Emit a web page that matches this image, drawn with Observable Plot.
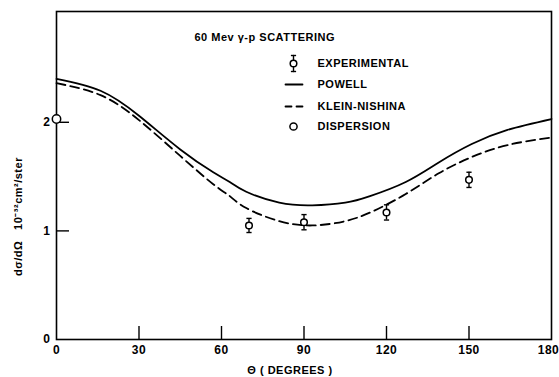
<!DOCTYPE html>
<html>
<head>
<meta charset="utf-8">
<script src="https://cdn.jsdelivr.net/npm/d3@7"></script>
<script src="https://cdn.jsdelivr.net/npm/@observablehq/plot@0.6"></script>
<style>
  html, body { margin: 0; padding: 0; background: #fff; }
  #chart svg text { letter-spacing: 0.5px; }
</style>
</head>
<body>
<div id="chart"></div>
<script>
// ---- data ----
const powellTheta = [0, 16, 30, 45, 57, 63, 69, 81, 93, 105, 114, 127, 139, 151, 164, 180];
const powellY     = [2.40, 2.29, 2.06, 1.75, 1.54, 1.45, 1.36, 1.26, 1.235, 1.26, 1.32, 1.45, 1.63, 1.80, 1.93, 2.03];

const knTheta = [0, 16, 30, 45, 57, 63, 69, 81, 93, 105, 115, 127, 139, 151, 164, 180];
const knY     = [2.36, 2.25, 2.02, 1.69, 1.43, 1.32, 1.21, 1.09, 1.05, 1.09, 1.18, 1.34, 1.53, 1.68, 1.79, 1.86];

const expTheta = [70, 90, 120, 150];
const expY     = [1.05, 1.08, 1.17, 1.47];
const expErr   = [0.065, 0.07, 0.07, 0.07];

const dispTheta = [0];
const dispY     = [2.03];

const xTickLabels = [0, 30, 60, 90, 120, 150];
const xTickLast   = [180];
const xTicksInner = [30, 60, 90, 120, 150];
const yTickLabels = [0, 1, 2];
const yTicksInner = [1, 2];

const titleText = "60 Mev γ-p SCATTERING";
const legendLabels = ["EXPERIMENTAL", "POWELL", "KLEIN-NISHINA", "DISPERSION"];
const xLabel = "Θ ( DEGREES )";
const yLabel = "dσ/dΩ\u00a0\u00a0\u00a010⁻³²cm²/ster";

// ---- tables ----
const powell = powellTheta.map((t, i) => ({theta: t, y: powellY[i]}));
const kn = knTheta.map((t, i) => ({theta: t, y: knY[i]}));
const exp = expTheta.map((t, i) => ({theta: t, y: expY[i], lo: expY[i] - expErr[i], hi: expY[i] + expErr[i]}));
const disp = dispTheta.map((t, i) => ({theta: t, y: dispY[i]}));

const capSymbol = {draw(ctx) { ctx.moveTo(-2.6, 0); ctx.lineTo(2.6, 0); }};
const segShape = {draw(ctx, l) { ctx.moveTo(0, 0); ctx.lineTo(0, -l); }};

const FS = 11;
const legX = 237, legTextX = 261;
const rowDy = [52, 73, 95, 115];

const legendText = (i) => Plot.text([legendLabels[i]], {frameAnchor: "top-left", dx: legTextX, dy: rowDy[i], textAnchor: "start", lineAnchor: "middle", fontSize: FS});

const chart = Plot.plot({
  width: 559,
  height: 377,
  marginLeft: 56,
  marginRight: 8,
  marginTop: 11,
  marginBottom: 38,
  style: {fontFamily: "'Liberation Sans', Arial, sans-serif", fontSize: "11px", fontWeight: "bold", color: "black", background: "white"},
  x: {domain: [0, 180], label: null},
  y: {domain: [0, 3.02], label: null},
  marks: [
    Plot.frame({stroke: "black", strokeWidth: 1.6}),
    // inward ticks
    Plot.tickX(xTicksInner, {x: d => d, insetTop: 315, stroke: "black", strokeWidth: 1.4}),
    Plot.tickY(yTicksInner, {y: d => d, insetRight: 482, stroke: "black", strokeWidth: 1.4}),
    // tick labels
    Plot.axisX(xTickLabels, {tickSize: 0, tickPadding: 6, fontSize: 12, label: null}),
    Plot.axisX(xTickLast, {tickSize: 0, tickPadding: 6, fontSize: 12, dx: -3, label: null}),
    Plot.axisY(yTickLabels, {tickSize: 0, tickPadding: 6, fontSize: 12, tickFormat: d => String(d), label: null}),
    // curves
    Plot.line(powell, {x: "theta", y: "y", curve: "natural", stroke: "black", strokeWidth: 1.8}),
    Plot.line(kn, {x: "theta", y: "y", curve: "natural", stroke: "black", strokeWidth: 1.8, strokeDasharray: "9,5"}),
    // experimental points
    Plot.ruleX(exp, {x: "theta", y1: "lo", y2: "hi", stroke: "black", strokeWidth: 1.4}),
    Plot.dot(exp, {x: "theta", y: "lo", symbol: capSymbol, stroke: "black", strokeWidth: 1.4, fill: "none"}),
    Plot.dot(exp, {x: "theta", y: "hi", symbol: capSymbol, stroke: "black", strokeWidth: 1.4, fill: "none"}),
    Plot.dot(exp, {x: "theta", y: "y", r: 3.3, fill: "white", stroke: "black", strokeWidth: 1.5}),
    // dispersion
    Plot.dot(disp, {x: "theta", y: "y", r: 4.2, fill: "white", stroke: "black", strokeWidth: 1.5}),
    // title
    Plot.text([titleText], {frameAnchor: "top-left", dx: 138, dy: 26, textAnchor: "start", lineAnchor: "middle", fontSize: FS}),
    // legend: experimental symbol
    Plot.vector([0], {frameAnchor: "top-left", dx: legX, dy: rowDy[0] + 8, length: 16, anchor: "start", shape: segShape, stroke: "black", strokeWidth: 1.4}),
    Plot.dot([0], {frameAnchor: "top-left", dx: legX, dy: rowDy[0] - 8, symbol: capSymbol, stroke: "black", strokeWidth: 1.4}),
    Plot.dot([0], {frameAnchor: "top-left", dx: legX, dy: rowDy[0] + 8, symbol: capSymbol, stroke: "black", strokeWidth: 1.4}),
    Plot.dot([0], {frameAnchor: "top-left", dx: legX, dy: rowDy[0], r: 3.3, fill: "white", stroke: "black", strokeWidth: 1.5}),
    // legend: powell
    Plot.vector([0], {frameAnchor: "top-left", dx: legX - 8, dy: rowDy[1], length: 17, rotate: 90, anchor: "start", shape: segShape, stroke: "black", strokeWidth: 1.8}),
    // legend: klein-nishina
    Plot.vector([0], {frameAnchor: "top-left", dx: legX - 8, dy: rowDy[2], length: 17, rotate: 90, anchor: "start", shape: segShape, stroke: "black", strokeWidth: 1.8, strokeDasharray: "6,5"}),
    // legend: dispersion
    Plot.dot([0], {frameAnchor: "top-left", dx: legX, dy: rowDy[3], r: 3.6, fill: "white", stroke: "black", strokeWidth: 1.5}),
    // legend labels
    legendText(0), legendText(1), legendText(2), legendText(3),
    // axis labels
    Plot.text([xLabel], {frameAnchor: "bottom", dx: -14, dy: 31, lineAnchor: "middle", fontSize: FS}),
    Plot.text([yLabel], {frameAnchor: "left", rotate: -90, dx: -38, dy: 41, textAnchor: "middle", lineAnchor: "middle", fontSize: FS, fill: "black"})
  ]
});
document.getElementById("chart").appendChild(chart);
</script>
</body>
</html>
